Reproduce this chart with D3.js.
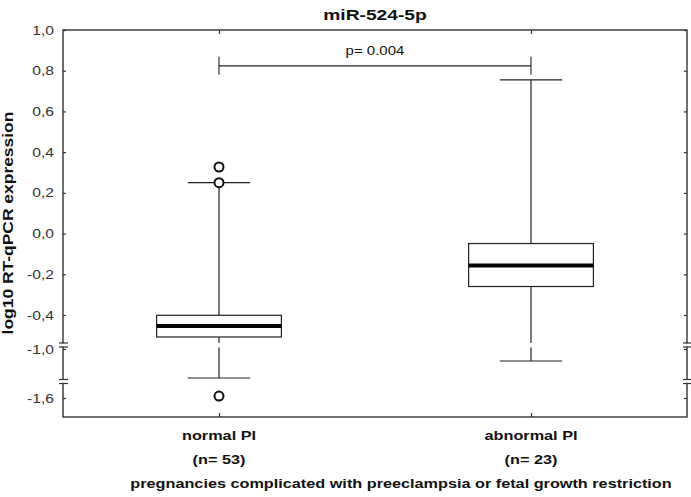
<!DOCTYPE html>
<html>
<head>
<meta charset="utf-8">
<script src="https://cdn.jsdelivr.net/npm/d3@7"></script>
<style>
  html, body { margin: 0; padding: 0; background: #fff; }
  svg { display: block; font-family: "Liberation Sans", Arial, sans-serif; }
</style>
</head>
<body>
<svg id="chart" width="691" height="497"></svg>
<script>
// ---- data ----
const categories = ["normal PI", "abnormal PI"];
const nLabels = ["(n= 53)", "(n= 23)"];
const whiskerLow = [-1.355, -1.147];
const q1 = [-0.788, -0.26];
const medians = [-0.594, -0.157];
const q3 = [-0.405, -0.049];
const whiskerHigh = [0.25, 0.755];
const outliers = [[0.327, 0.25, -1.576], []];
const yTicks = [1.0, 0.8, 0.6, 0.4, 0.2, 0.0, -0.2, -0.4, -1.0, -1.6];
const yTickLabels = ["1,0", "0,8", "0,6", "0,4", "0,2", "0,0", "-0,2", "-0,4", "-1,0", "-1,6"];
const axisBreaks = [-0.929, -1.398];
const pText = "p= 0.004";
const bracketValue = 0.824;
const title = "miR-524-5p";
const yTitle = "log10 RT-qPCR expression";
const xTitle = "pregnancies complicated with preeclampsia or fetal growth restriction";

// ---- layout ----
const mLeft = 63, mRight = 687, mTop = 30, mBottom = 417;
const SX = 1.22; // glyph horizontal stretch
const ink = "#222";

const svg = d3.select("#chart");

// broken (piecewise) y scale
const y = d3.scaleLinear()
  .domain([1.0, -0.4, -1.0, -1.6, -1.84])
  .range([mTop, 315, 349, 398, mBottom]);

const x = d3.scalePoint().domain(categories).range([mLeft, mRight]).padding(0.5);
const step = x.step();
const boxW = step * 0.4;
const capW = boxW * 0.5;

function txt(g, px, py, s, o) {
  o = o || {};
  const rot = o.rotate ? ` rotate(${o.rotate})` : "";
  return g.append("text")
    .attr("transform", `translate(${px},${py})${rot} scale(${o.sx || SX},1)`)
    .attr("text-anchor", o.anchor || "middle")
    .attr("font-size", o.size || 13)
    .attr("font-weight", o.weight || "normal")
    .attr("fill", o.fill || "#111")
    .text(s);
}

// frame
const frame = svg.append("g");
frame.append("rect")
  .attr("x", mLeft).attr("y", mTop)
  .attr("width", mRight - mLeft).attr("height", mBottom - mTop)
  .attr("fill", "none").attr("stroke", "#333").attr("stroke-width", 1.4);

// left/right axis ticks
const yAxisL = d3.axisRight(y).tickValues(yTicks).tickSize(3).tickFormat("");
frame.append("g").attr("transform", `translate(${mLeft},0)`).call(yAxisL)
  .call(g => g.select(".domain").remove())
  .call(g => g.selectAll("line").attr("stroke", "#333").attr("stroke-width", 1.2));
const yAxisR = d3.axisLeft(y).tickValues(yTicks).tickSize(3).tickFormat("");
frame.append("g").attr("transform", `translate(${mRight},0)`).call(yAxisR)
  .call(g => g.select(".domain").remove())
  .call(g => g.selectAll("line").attr("stroke", "#333").attr("stroke-width", 1.2));

yTicks.forEach((v, i) => {
  txt(svg, mLeft - 9, y(v) + 4.5, yTickLabels[i], {anchor: "end", size: 12.8, fill: "#333"});
});

// top/bottom category ticks
const xTop = d3.axisBottom(x).tickSize(4).tickFormat("");
frame.append("g").attr("transform", `translate(0,${mTop})`).call(xTop)
  .call(g => g.select(".domain").remove())
  .call(g => g.selectAll("line").attr("stroke", "#333").attr("stroke-width", 1.2));
const xBot = d3.axisTop(x).tickSize(4).tickFormat("");
frame.append("g").attr("transform", `translate(0,${mBottom})`).call(xBot)
  .call(g => g.select(".domain").remove())
  .call(g => g.selectAll("line").attr("stroke", "#333").attr("stroke-width", 1.2));

// axis break marks
axisBreaks.forEach(b => {
  const yb = y(b);
  [mLeft, mRight].forEach(ax => {
    frame.append("rect").attr("x", ax - 3).attr("y", yb - 1.5).attr("width", 6).attr("height", 3).attr("fill", "#fff");
    [yb - 2, yb + 2].forEach(yy => {
      frame.append("line").attr("x1", ax - 4).attr("x2", ax + 5)
        .attr("y1", yy).attr("y2", yy).attr("stroke", "#333").attr("stroke-width", 1.2);
    });
  });
});

// boxes
const plot = svg.append("g");
function vseg(cx, v1, v2) {
  const y1 = y(v1), y2 = y(v2);
  const a = Math.min(y1, y2), bb = Math.max(y1, y2);
  const cuts = axisBreaks.map(b => y(b)).filter(yb => yb > a && yb < bb).sort((p, q) => p - q);
  let start = a;
  cuts.forEach(c => {
    plot.append("line").attr("x1", cx).attr("x2", cx).attr("y1", start).attr("y2", c - 2)
      .attr("stroke", ink).attr("stroke-width", 1.2);
    start = c + 2.5;
  });
  plot.append("line").attr("x1", cx).attr("x2", cx).attr("y1", start).attr("y2", bb)
    .attr("stroke", ink).attr("stroke-width", 1.2);
}

categories.forEach((c, i) => {
  const cx = x(c);
  vseg(cx, q3[i], whiskerHigh[i]);
  vseg(cx, q1[i], whiskerLow[i]);
  [whiskerHigh[i], whiskerLow[i]].forEach(v => {
    plot.append("line").attr("x1", cx - capW / 2).attr("x2", cx + capW / 2)
      .attr("y1", y(v)).attr("y2", y(v)).attr("stroke", ink).attr("stroke-width", 1.2);
  });
  plot.append("rect")
    .attr("x", cx - boxW / 2).attr("y", y(q3[i]))
    .attr("width", boxW).attr("height", y(q1[i]) - y(q3[i]))
    .attr("fill", "#fff").attr("stroke", ink).attr("stroke-width", 1.2);
  plot.append("line").attr("x1", cx - boxW / 2).attr("x2", cx + boxW / 2)
    .attr("y1", y(medians[i])).attr("y2", y(medians[i]))
    .attr("stroke", "#000").attr("stroke-width", 4);
  outliers[i].forEach(v => {
    plot.append("circle").attr("cx", cx).attr("cy", y(v)).attr("r", 4.5)
      .attr("fill", "#fff").attr("stroke", "#111").attr("stroke-width", 2);
  });
});

// significance bracket
const by = y(bracketValue);
const bx1 = x(categories[0]), bx2 = x(categories[1]);
plot.append("line").attr("x1", bx1).attr("x2", bx2).attr("y1", by).attr("y2", by)
  .attr("stroke", ink).attr("stroke-width", 1.1);
[bx1, bx2].forEach(bx => {
  plot.append("line").attr("x1", bx).attr("x2", bx).attr("y1", by - 9).attr("y2", by + 9)
    .attr("stroke", ink).attr("stroke-width", 1.1);
});
txt(svg, (bx1 + bx2) / 2, by - 11, pText, {size: 12.3});

// titles
txt(svg, (mLeft + mRight) / 2, 19.5, title, {size: 15.5, weight: "bold", sx: 1.24});
txt(svg, 13, 223, yTitle, {size: 14.3, weight: "bold", rotate: -90});

categories.forEach((c, i) => {
  txt(svg, x(c), 440, c, {size: 13, weight: "bold", sx: 1.25});
  txt(svg, x(c), 464, nLabels[i], {size: 13, weight: "bold", sx: 1.25});
});
txt(svg, 401, 488, xTitle, {size: 13, weight: "bold", sx: 1.25});
</script>
</body>
</html>
